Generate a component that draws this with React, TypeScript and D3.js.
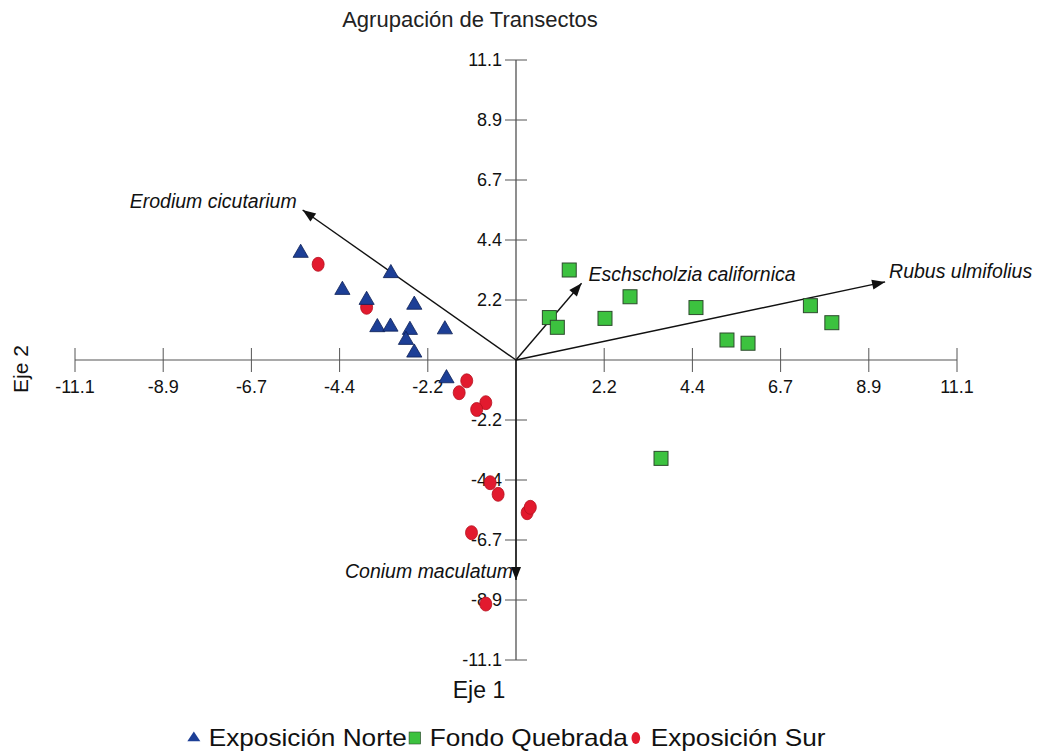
import React from "react";
import * as d3 from "d3";

// Site scores on the first two ordination axes
const norteX = [-5.42, -3.15, -4.37, -3.76, -2.56, -3.49, -3.16, -2.67, -2.77, -2.56, -1.79, -1.75];
const norteY = [3.96, 3.21, 2.59, 2.22, 2.04, 1.21, 1.23, 1.11, 0.74, 0.27, 1.13, -0.68];

const fondoX = [1.34, 0.84, 1.04, 2.24, 2.87, 4.53, 5.31, 5.84, 7.41, 7.95, 3.65];
const fondoY = [3.33, 1.57, 1.21, 1.54, 2.34, 1.94, 0.74, 0.62, 2.01, 1.38, -3.64];

const surX = [-4.98, -3.76, -1.24, -1.43, -0.76, -0.99, -0.65, -0.45, 0.28, 0.36, -1.12, -0.76];
const surY = [3.54, 1.95, -0.77, -1.21, -1.58, -1.83, -4.54, -4.97, -5.65, -5.45, -6.39, -9.03];

// Species vectors
const species = ["Erodium cicutarium", "Eschscholzia californica", "Rubus ulmifolius", "Conium maculatum"];
const speciesX = [-5.37, 1.65, 9.29, 0];
const speciesY = [5.55, 2.84, 2.89, -8.14];

// Axis ticks: multiples of 11.1 / 5
const tickSteps = [-5, -4, -3, -2, -1, 1, 2, 3, 4, 5];
const axisMax = 11.1;

const title = "Agrupación de Transectos";
const xTitle = "Eje 1";
const yTitle = "Eje 2";
const legendLabels = ["Exposición Norte", "Fondo Quebrada", "Exposición Sur"];

const BLUE = "#1d3f96";
const GREEN = "#3cc23f";
const RED = "#e21a2e";
const FONT = "'Liberation Sans', Arial, Helvetica, sans-serif";

// Arial advance widths (em) used to lay out the legend row
const glyphW: Record<string, number> = {
  E: 0.667, x: 0.5, p: 0.556, o: 0.556, s: 0.5, i: 0.222, c: 0.5, "ó": 0.556, n: 0.556, " ": 0.278,
  N: 0.722, r: 0.333, t: 0.278, e: 0.556, F: 0.611, d: 0.556, Q: 0.778, u: 0.556, b: 0.556, a: 0.556, S: 0.667,
};
const textWidth = (s: string, size: number) =>
  s.split("").reduce((acc, ch) => acc + (glyphW[ch] ?? 0.556), 0) * size;

export default function App() {
  const width = 1038;
  const height = 751;

  const x = d3.scaleLinear().domain([-axisMax, axisMax]).range([75, 957]);
  const y = d3.scaleLinear().domain([-axisMax, axisMax]).range([660, 60]);
  const x0 = x(0);
  const y0 = y(0);
  const ticks = tickSteps.map((s) => (s * axisMax) / 5);
  const fmt = (v: number) => v.toFixed(1);

  const tri = d3.symbol().type(d3.symbolTriangle).size(100);

  const norte = norteX.map((v, i) => ({ x: v, y: norteY[i] }));
  const fondo = fondoX.map((v, i) => ({ x: v, y: fondoY[i] }));
  const sur = surX.map((v, i) => ({ x: v, y: surY[i] }));

  // label placement for each species vector
  const labelPos = [
    { dx: -6, dy: -2, anchor: "end" },
    { dx: 7, dy: -2, anchor: "start" },
    { dx: 4, dy: -4, anchor: "start" },
    { dx: -3, dy: -2, anchor: "end" },
  ];

  const arrowHead = (x1: number, y1: number, x2: number, y2: number) => {
    const ang = Math.atan2(y2 - y1, x2 - x1);
    const len = 13;
    const half = 5;
    const bx = x2 - len * Math.cos(ang);
    const by = y2 - len * Math.sin(ang);
    const px = -Math.sin(ang) * half;
    const py = Math.cos(ang) * half;
    return `M${x2},${y2}L${bx + px},${by + py}L${bx - px},${by - py}Z`;
  };

  // legend row layout (unscaled units, then stretched horizontally)
  const lgSize = 23;
  const lgItems: { label: string; markX: number; textX: number }[] = [];
  let cur = 0;
  legendLabels.forEach((label, i) => {
    const markX = i === 0 ? 6 : cur + 7;
    const textX = markX + 13;
    lgItems.push({ label, markX, textX });
    cur = textX + textWidth(label, lgSize);
  });

  return (
    <svg width={width} height={height} style={{ display: "block", position: "absolute", left: 0, top: 0, background: "#fff" }} fontFamily={FONT}>
      <rect width={width} height={height} fill="#fff" />
      <text x={470} y={27} fontSize={22} textAnchor="middle" fill="#222">{title}</text>

      {/* axes */}
      <line x1={x(-axisMax)} x2={x(axisMax)} y1={y0} y2={y0} stroke="#555" strokeWidth={1.2} />
      <line x1={x0} x2={x0} y1={y(axisMax)} y2={y(-axisMax)} stroke="#444" strokeWidth={1.2} />
      {ticks.map((t) => (
        <g key={"xt" + t}>
          <line x1={x(t)} x2={x(t)} y1={y0 - 12} y2={y0 + 12} stroke="#555" strokeWidth={1} />
          <text x={x(t)} y={y0 + 33} fontSize={18} textAnchor="middle" fill="#111">{fmt(t)}</text>
        </g>
      ))}
      {ticks.map((t) => (
        <g key={"yt" + t}>
          <line x1={x0 - 11} x2={x0 + 11} y1={y(t)} y2={y(t)} stroke="#555" strokeWidth={1} />
          <text x={x0 - 14} y={y(t)} dy="0.35em" fontSize={18} textAnchor="end" fill="#111">{fmt(t)}</text>
        </g>
      ))}
      <text x={479} y={698} fontSize={23} textAnchor="middle" fill="#111">{xTitle}</text>
      <text transform={`translate(28,369) rotate(-90)`} fontSize={21} textAnchor="middle" fill="#111">{yTitle}</text>

      {/* species vectors */}
      {species.map((name, i) => {
        const ex = x(speciesX[i]);
        const ey = y(speciesY[i]);
        const p = labelPos[i];
        return (
          <g key={name}>
            <line x1={x0} y1={y0} x2={ex} y2={ey} stroke="#111" strokeWidth={1.4} />
            <path d={arrowHead(x0, y0, ex, ey)} fill="#111" />
            <text x={ex + p.dx} y={ey + p.dy} fontSize={19.5} fontStyle="italic" textAnchor={p.anchor} fill="#111">{name}</text>
          </g>
        );
      })}

      {/* sites */}
      {sur.map((d, i) => (
        <ellipse key={"s" + i} cx={x(d.x)} cy={y(d.y)} rx={6} ry={7} fill={RED} stroke="#b5121f" strokeWidth={0.8} />
      ))}
      {norte.map((d, i) => (
        <path key={"n" + i} d={tri() as string} transform={`translate(${x(d.x)},${y(d.y)})`} fill={BLUE} stroke="#0d1f55" strokeWidth={0.8} />
      ))}
      {fondo.map((d, i) => (
        <rect key={"f" + i} x={x(d.x) - 7} y={y(d.y) - 7} width={14} height={14} fill={GREEN} stroke="#2d4a2d" strokeWidth={1} />
      ))}

      {/* legend */}
      <g transform="translate(187,746) scale(1.14,1)">
        {lgItems.map((it, i) => (
          <g key={it.label}>
            {i === 0 && <path d={tri() as string} transform={`translate(${it.markX},-8) scale(0.75)`} fill={BLUE} />}
            {i === 1 && <rect x={it.markX - 5} y={-14} width={10} height={12} fill={GREEN} stroke="#2d4a2d" strokeWidth={0.6} />}
            {i === 2 && <ellipse cx={it.markX} cy={-8} rx={3.8} ry={6} fill={RED} />}
            <text x={it.textX} y={0} fontSize={lgSize} fill="#111">{it.label}</text>
          </g>
        ))}
      </g>
    </svg>
  );
}
